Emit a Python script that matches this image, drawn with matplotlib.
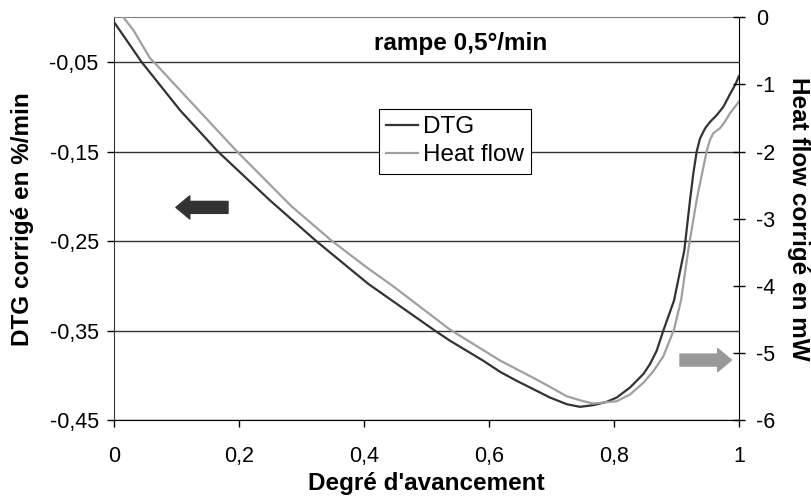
import matplotlib
matplotlib.use('Agg')
import matplotlib.pyplot as plt

plt.rcParams['font.family'] = ['Liberation Sans', 'DejaVu Sans']

# DTG (axe de gauche, %/min)
x_dtg = [0.0, 0.0443, 0.1056, 0.1664, 0.2496, 0.2709, 0.3243, 0.4069, 0.4603, 0.5136,
         0.5376, 0.5643, 0.5909, 0.6176, 0.6443, 0.6709, 0.6976, 0.7243, 0.7456, 0.7669,
         0.7883, 0.8043, 0.8256, 0.8469, 0.8576, 0.8683, 0.8789, 0.896, 0.9125, 0.9216,
         0.9269, 0.9323, 0.9376, 0.9456, 0.9536, 0.9643, 0.9749, 0.9856, 0.9936, 1.0]
y_dtg = [-0.0053, -0.0501, -0.1038, -0.1501, -0.2046, -0.2177, -0.2505, -0.2979, -0.3241, -0.3502,
         -0.3614, -0.3726, -0.3838, -0.3961, -0.4062, -0.4155, -0.4249, -0.4323, -0.4353, -0.4334,
         -0.4297, -0.4249, -0.4137, -0.3987, -0.3875, -0.3726, -0.3502, -0.3166, -0.2606, -0.2046,
         -0.1747, -0.1501, -0.1355, -0.1243, -0.1169, -0.1094, -0.1001, -0.0859, -0.0758, -0.0657]

# Heat flow (axe de droite, mW)
x_hf = [0.0149, 0.0309, 0.0576, 0.0656, 0.1323, 0.1963, 0.2736, 0.2843, 0.3483, 0.4043,
        0.4469, 0.5376, 0.6176, 0.6709, 0.6976, 0.7243, 0.7509, 0.7669, 0.8043, 0.8256,
        0.8469, 0.8629, 0.8789, 0.896, 0.9075, 0.9189, 0.9323, 0.9483, 0.9536, 0.9589,
        0.9696, 0.9776, 0.9856, 1.0]
y_hf = [0.0, -0.189, -0.610, -0.685, -1.354, -1.994, -2.719, -2.818, -3.329, -3.726,
        -4.009, -4.653, -5.113, -5.372, -5.506, -5.646, -5.720, -5.754, -5.720, -5.620,
        -5.446, -5.274, -5.051, -4.653, -4.207, -3.463, -2.719, -1.994, -1.826, -1.726,
        -1.652, -1.554, -1.429, -1.256]

xticks = [0, 0.2, 0.4, 0.6, 0.8, 1]
xlabels = ['0', '0,2', '0,4', '0,6', '0,8', '1']
lticks = [-0.45, -0.35, -0.25, -0.15, -0.05]
llabels = ['-0,45', '-0,35', '-0,25', '-0,15', '-0,05']
rticks = [-6, -5, -4, -3, -2, -1, 0]
rlabels = ['-6', '-5', '-4', '-3', '-2', '-1', '0']

fig = plt.figure(figsize=(8.11, 4.99), dpi=100)
ax = fig.add_axes([0.1406, 0.1583, 0.7706, 0.807])
ax2 = ax.twinx()

l1, = ax.plot(x_dtg, y_dtg, color='#333333', linewidth=1.6)
l2, = ax2.plot(x_hf, y_hf, color='#a0a0a0', linewidth=1.6)

ax.set_xlim(0, 1)
ax.set_ylim(-0.45, 0)
ax2.set_ylim(-6, 0)

ax.set_xticks(xticks)
ax.set_xticklabels(xlabels)
ax.set_yticks(lticks)
ax.set_yticklabels(llabels)
ax2.set_yticks(rticks)
ax2.set_yticklabels(rlabels)

ax.tick_params(axis='x', direction='out', length=5, width=1, pad=14, labelsize=15.5)
ax.tick_params(axis='y', direction='out', length=5, width=1, pad=6, labelsize=15.5)
ax2.tick_params(axis='y', direction='inout', length=8, width=1, pad=8.5, labelsize=15.5)

ax.grid(axis='y', color='#333333', linewidth=1)
ax.set_axisbelow(True)

ax.spines['top'].set_color('#808080')
ax.spines['right'].set_visible(False)
ax.spines['left'].set_color('#333333')
ax.spines['bottom'].set_color('black')
ax2.spines['top'].set_visible(False)
ax2.spines['left'].set_visible(False)
ax2.spines['bottom'].set_visible(False)
ax2.spines['right'].set_color('black')

ax.set_xlabel("Degré d'avancement", fontsize=17.5, fontweight='bold')
ax.xaxis.set_label_coords(0.5, -0.128)
ax.set_ylabel('DTG corrigé en %/min', fontsize=17.5, fontweight='bold')
ax.yaxis.set_label_coords(-0.128, 0.5)
ax2.set_ylabel('Heat flow corrigé en mW', fontsize=17.5, fontweight='bold', rotation=-90)
ax2.yaxis.set_label_coords(1.113, 0.5)

ax.text(0.554, 0.936, 'rampe 0,5°/min', transform=ax.transAxes, ha='center', va='center',
        fontsize=17.5, fontweight='bold')

# flèches
ax.annotate('', xy=(0.099, -0.2124), xytext=(0.1824, -0.2124),
            arrowprops=dict(arrowstyle='simple,head_length=1.0,head_width=1.66,tail_width=0.86',
                            mutation_scale=10, color='#333333', shrinkA=0, shrinkB=0))
ax.annotate('', xy=(0.988, -0.383), xytext=(0.9056, -0.383),
            arrowprops=dict(arrowstyle='simple,head_length=1.0,head_width=1.66,tail_width=0.86',
                            mutation_scale=10, color='#999999', shrinkA=0, shrinkB=0))

leg = ax2.legend([l1, l2], ['DTG', 'Heat flow'], loc='upper left',
                 bbox_to_anchor=(379 / 811, 1 - 109 / 499), bbox_transform=fig.transFigure,
                 fontsize=17.5, frameon=True, fancybox=False, framealpha=1, edgecolor='black',
                 handlelength=1.3, handletextpad=0.2, borderpad=0.3, labelspacing=0.25,
                 borderaxespad=0)
leg.get_frame().set_linewidth(0.8)

plt.savefig('out.png', dpi=100)
